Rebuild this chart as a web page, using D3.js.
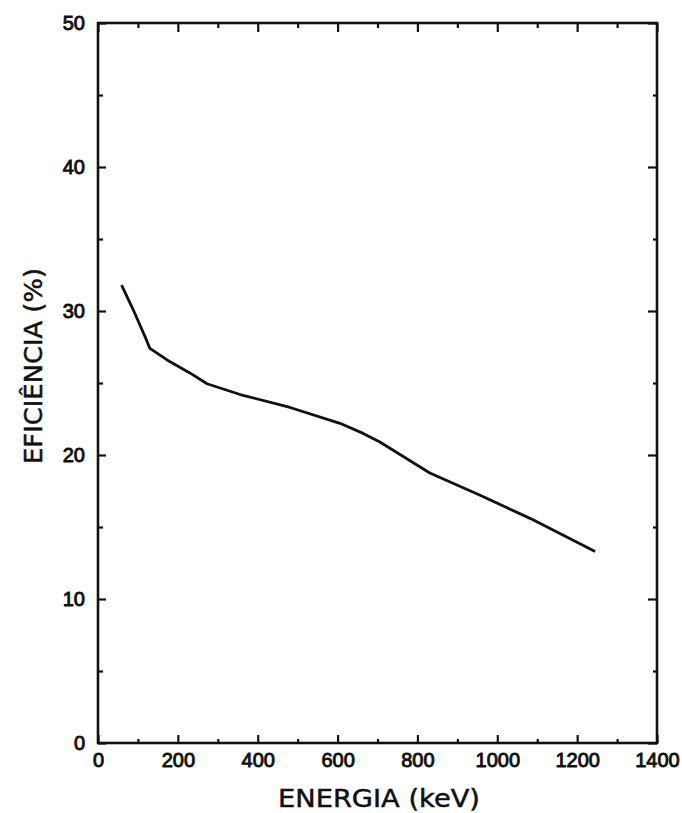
<!DOCTYPE html>
<html>
<head>
<meta charset="utf-8">
<script src="https://cdn.jsdelivr.net/npm/d3@7"></script>
<style>
  body { margin: 0; background: #fff; }
  svg { display: block; }
</style>
</head>
<body>
<div class="figure"></div>
<script>
// values
let energia = [59, 88, 118, 130, 173, 230, 273, 356, 481, 606, 664, 706, 831, 957, 1082, 1245]
let eficiencia = [31.8, 30.1, 28.2, 27.4, 26.6, 25.7, 24.95, 24.2, 23.3, 22.2, 21.5, 20.9, 18.75, 17.2, 15.6, 13.3]

let xTicks = [0, 200, 400, 600, 800, 1000, 1200, 1400]
let xMinor = [100, 300, 500, 700, 900, 1100, 1300]
let yTicks = [0, 10, 20, 30, 40, 50]
let yMinor = [5, 15, 25, 35, 45]

let xTitle = "ENERGIA (keV)"
let yTitle = "EFICIÊNCIA (%)"

let width = 682
let height = 813
let margin = {top: 23, right: 25, bottom: 70, left: 98}
let w = width - margin.left - margin.right
let h = height - margin.top - margin.bottom

const svg = d3.select(".figure").append("svg")
    .attr("width", width)
    .attr("height", height)
    .style("font-family", "'DejaVu Sans', sans-serif")

const g = svg.append("g")
    .attr("transform", `translate(${margin.left},${margin.top})`)

let x = d3.scaleLinear().domain([0, 1400]).range([0, w])
let y = d3.scaleLinear().domain([0, 50]).range([h, 0])

// frame
g.append("rect")
    .attr("x", 0).attr("y", 0)
    .attr("width", w).attr("height", h)
    .attr("fill", "none")
    .attr("stroke", "#111")
    .attr("stroke-width", 2.6)

function styleAxis(sel) {
    sel.select(".domain").remove()
    sel.selectAll(".tick line").attr("stroke", "#111").attr("stroke-width", 2.2)
    sel.selectAll(".tick text")
        .attr("fill", "#111")
        .attr("stroke", "#111")
        .attr("stroke-width", 0.9)
        .style("font-size", "20px")
}

// bottom axis, ticks pointing inside
g.append("g")
    .attr("transform", `translate(0,${h})`)
    .call(d3.axisBottom(x).tickValues(xTicks).tickSize(-8).tickPadding(24).tickFormat(d3.format("d")))
    .call(styleAxis)
    .call(s => s.selectAll(".tick text").attr("dy", "0"))

g.append("g")
    .attr("transform", `translate(0,${h})`)
    .call(d3.axisBottom(x).tickValues(xMinor).tickSize(-4).tickFormat(""))
    .call(styleAxis)

// top axis
g.append("g")
    .call(d3.axisTop(x).tickValues(xTicks).tickSize(-9).tickFormat(""))
    .call(styleAxis)
g.append("g")
    .call(d3.axisTop(x).tickValues(xMinor).tickSize(-5).tickFormat(""))
    .call(styleAxis)

// left axis
g.append("g")
    .call(d3.axisLeft(y).tickValues(yTicks).tickSize(-8).tickPadding(13).tickFormat(d3.format("d")))
    .call(styleAxis)
    .call(s => s.selectAll(".tick text").attr("dy", "0.3em"))
g.append("g")
    .call(d3.axisLeft(y).tickValues(yMinor).tickSize(-5).tickFormat(""))
    .call(styleAxis)

// right axis
g.append("g")
    .attr("transform", `translate(${w},0)`)
    .call(d3.axisRight(y).tickValues(yTicks).tickSize(-9).tickFormat(""))
    .call(styleAxis)
g.append("g")
    .attr("transform", `translate(${w},0)`)
    .call(d3.axisRight(y).tickValues(yMinor).tickSize(-4).tickFormat(""))
    .call(styleAxis)

// the curve
let points = energia.map((e, i) => [e, eficiencia[i]])
let line = d3.line()
    .x(d => x(d[0]))
    .y(d => y(d[1]))

g.append("path")
    .datum(points)
    .attr("fill", "none")
    .attr("stroke", "#111")
    .attr("stroke-width", 2.8)
    .attr("stroke-linejoin", "round")
    .attr("d", line)

// axis titles
svg.append("text")
    .attr("x", 379)
    .attr("y", 807)
    .attr("text-anchor", "middle")
    .attr("fill", "#111")
    .attr("stroke", "#111")
    .attr("stroke-width", 0.5)
    .style("font-size", "25px")
    .attr("textLength", 202)
    .attr("lengthAdjust", "spacingAndGlyphs")
    .text(xTitle)

svg.append("text")
    .attr("transform", "translate(42,366) rotate(-90)")
    .attr("text-anchor", "middle")
    .attr("fill", "#111")
    .attr("stroke", "#111")
    .attr("stroke-width", 0.5)
    .style("font-size", "25px")
    .attr("textLength", 196)
    .attr("lengthAdjust", "spacingAndGlyphs")
    .text(yTitle)
</script>
</body>
</html>
